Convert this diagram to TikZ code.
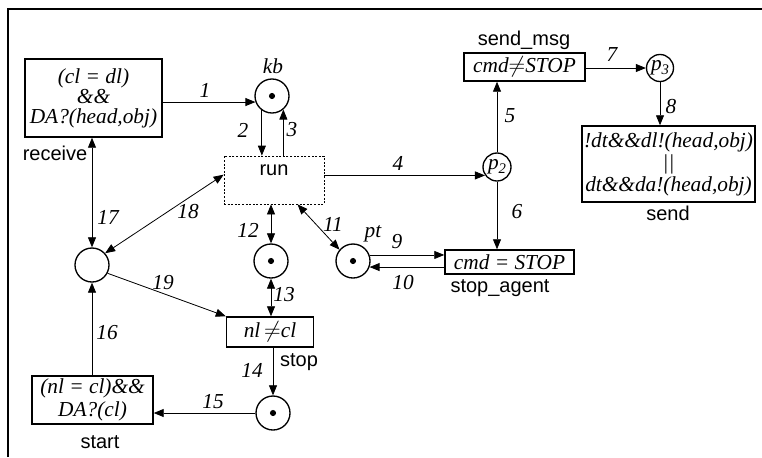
\documentclass[tikz,border=0pt]{standalone}
\usepackage{fontspec}
\setmainfont{Liberation Serif}
\setsansfont{Liberation Sans}
\usetikzlibrary{arrows.meta,calc}
\begin{document}
\begin{tikzpicture}[x=0.75pt,y=-0.75pt,
  trans/.style={draw, line width=1.1pt, inner sep=0pt, align=center,
    font=\fontsize{16}{17.5}\selectfont\itshape},
  place/.style={draw, circle, line width=1pt, inner sep=0pt, minimum size=25.5pt,
    font=\fontsize{16}{18}\selectfont\itshape},
  token/.style={path picture={\fill (path picture bounding box.center) circle (2.3pt);}},
  lab/.style={font=\fontsize{16}{18}\selectfont\itshape, inner sep=0pt},
  slab/.style={font=\fontsize{15}{17}\selectfont\sffamily, inner sep=0pt},
  arr/.style={-{Triangle[length=7.5pt,width=6pt]}, line width=0.6pt},
  arrr/.style={{Triangle[length=7.5pt,width=6pt]}-{Triangle[length=7.5pt,width=6pt]}, line width=0.6pt}]
\useasboundingbox (0,0) rectangle (762,457);
% frame
\draw[line width=1.3pt] (8,457) -- (8,9) -- (762,9);

% transitions
\node[trans, minimum width=102.75pt, minimum height=58.5pt,
  font=\fontsize{16}{15}\selectfont\itshape] (receive) at (93.5,98) {(cl = dl)\\\&\&\\DA?(head,obj)};
\node[trans, minimum width=90.75pt, minimum height=21pt] (sendmsg) at (524.5,67) {cmd$\neq$STOP};
\node[trans, minimum width=129.75pt, minimum height=57pt] (send) at (668.5,164)
  {!dt\&\&dl!(head,obj)\\[-1pt]||\\[-1pt]dt\&\&da!(head,obj)};
\node[trans, minimum width=96.75pt, minimum height=18pt] (stopagent) at (509.5,262) {cmd = STOP};
\node[trans, minimum width=65.25pt, minimum height=22.5pt] (stop) at (270,332) {nl$\,\neq$cl};
\node[trans, minimum width=90.75pt, minimum height=36pt] (start) at (92.5,400) {(nl = cl)\&\&\\DA?(cl)};
\node[draw, dashed, dash pattern=on 1.5pt off 1.2pt, line width=0.6pt, minimum width=75pt,
  minimum height=36pt, inner sep=0pt,
  label={[slab, anchor=north, yshift=-6.5pt]north:run}] (run) at (274,180) {};

% places
\node[place, token] (kb) at (272,96) {};
\node[place, minimum size=21pt] (p2) at (497,167) {p\raisebox{-2.5pt}{\fontsize{11}{11}\selectfont 2}};
\node[place, minimum size=20.25pt] (p3) at (660,68) {p\raisebox{-2.5pt}{\fontsize{11}{11}\selectfont 3}};
\node[place, token] (pt) at (353,261) {};
\node[place, token] (ps) at (271,261) {};
\node[place, token] (pb) at (273,413) {};
\node[place] (pc) at (92,265) {};

% connectors
\draw[arr] (kb.200 -| receive.east) -- (kb.200);
\draw[arr] (kb.235) -- (kb.235 |- run.north);
\draw[arr] (kb.310 |- run.north) -- (kb.310);
\draw[arr] (run.east |- p2.215) -- (p2.215);
\draw[arr] (p2.north) -- (p2.north |- sendmsg.south);
\draw[arr] (p2.south) -- (p2.south |- stopagent.north);
\draw[arr] (p3.west -| sendmsg.east) -- (p3.west);
\draw[arr] (p3.south) -- (p3.south |- send.north);
\draw[arr] (pt.20) -- (pt.20 -| stopagent.west);
\draw[arr] (pt.340 -| stopagent.west) -- (pt.340);
\draw[arrr] (run.-46) -- (pt.140);
\draw[arrr] (ps.north) -- (ps.north |- run.south);
\draw[arrr] (ps.south) -- (ps.south |- stop.north);
\draw[arr] (stop.south -| pb.north) -- (pb.north);
\draw[arr] (pb.west) -- (pb.west -| start.east);
\draw[arr] (start.north -| pc.south) -- (pc.south);
\draw[arrr] (pc.north) -- (pc.north |- receive.south);
\draw[arrr] (pc.42) -- (run.174);
\draw[arr] (pc.-28) -- (stop.north west);

% arc labels
\node[lab] (l1) at (205,90) {1};
\node[lab] (l2) at (243,130) {2};
\node[lab] (l3) at (292,130) {3};
\node[lab] (l4) at (398,163) {4};
\node[lab] (l5) at (510,116) {5};
\node[lab] (l6) at (517,212) {6};
\node[lab] (l7) at (612,55) {7};
\node[lab] (l8) at (671,107) {8};
\node[lab] (l9) at (397,242) {9};
\node[lab] (l10) at (403,283) {10};
\node[lab] (l11) at (333,224) {11};
\node[lab] (l12) at (248,230) {12};
\node[lab] (l13) at (284,295) {13};
\node[lab] (l14) at (252,370) {14};
\node[lab] (l15) at (213,402) {15};
\node[lab] (l16) at (107,333) {16};
\node[lab] (l17) at (108,217) {17};
\node[lab] (l18) at (188,212) {18};
\node[lab] (l19) at (163,283) {19};

% names
\node[lab] (nkb) at (273,66) {kb};
\node[lab] (npt) at (373,234) {pt};
\node[slab] (nreceive) at (55,153) {receive};
\node[slab] (nsendmsg) at (524,40) {send\_msg};
\node[slab] (nsend) at (668,213) {send};
\node[slab] (nstopagent) at (500,288) {stop\_agent};
\node[slab] (nstop) at (299,362) {stop};
\node[slab] (nstart) at (100,442) {start};
\end{tikzpicture}
\end{document}
